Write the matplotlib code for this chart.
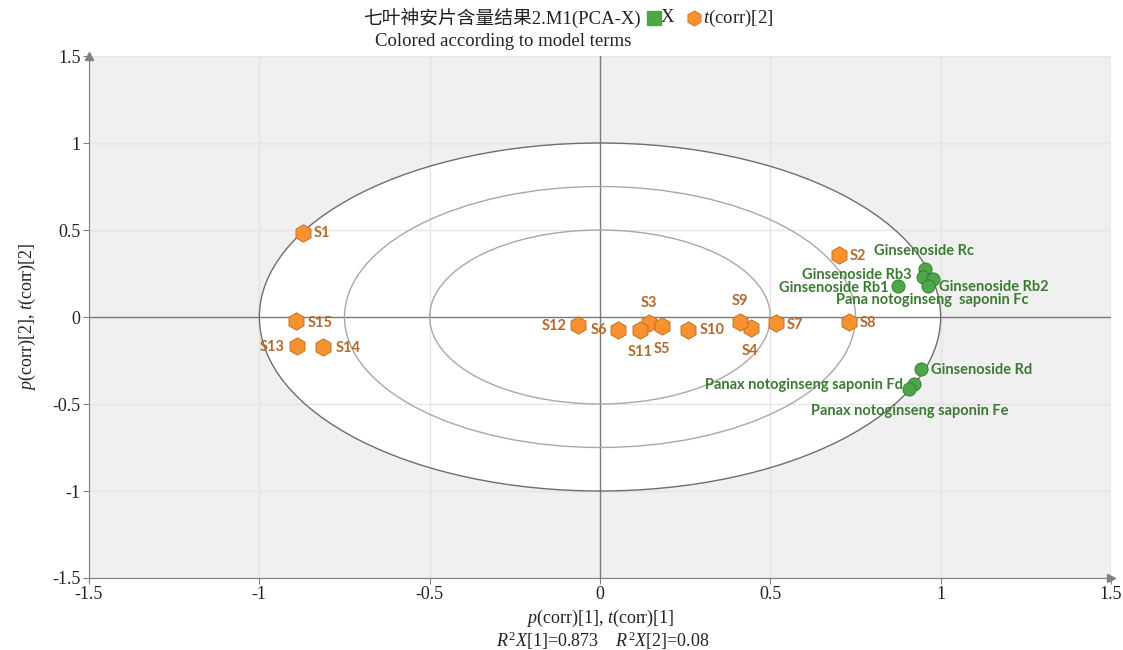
import matplotlib
matplotlib.use("Agg")
import matplotlib.pyplot as plt
from matplotlib.patches import Circle
from matplotlib.lines import Line2D

plt.rcParams["mathtext.fontset"] = "custom"
plt.rcParams["mathtext.it"] = "Liberation Serif:italic"
plt.rcParams["mathtext.rm"] = "Liberation Serif"
plt.rcParams["mathtext.bf"] = "Liberation Serif:bold"

# ---- data ----
obs_names = ["S1", "S2", "S3", "S4", "S5", "S6", "S7", "S8", "S9", "S10",
             "S11", "S12", "S13", "S14", "S15"]
obs_x = [-0.871, 0.701, 0.144, 0.443, 0.182, 0.053, 0.516, 0.730, 0.410, 0.258,
         0.117, -0.065, -0.889, -0.812, -0.891]
obs_y = [0.483, 0.356, -0.035, -0.063, -0.052, -0.075, -0.035, -0.028, -0.028, -0.075,
         -0.075, -0.046, -0.167, -0.172, -0.023]

var_names = ["Ginsenoside Rc", "Ginsenoside Rb3", "Ginsenoside Rb2",
             "Pana notoginseng  saponin Fc", "Ginsenoside Rb1", "Ginsenoside Rd",
             "Panax notoginseng saponin Fd", "Panax notoginseng saponin Fe"]
var_x = [0.953, 0.947, 0.977, 0.962, 0.874, 0.941, 0.921, 0.906]
var_y = [0.276, 0.230, 0.218, 0.178, 0.178, -0.299, -0.385, -0.414]

ticks = [-1.5, -1, -0.5, 0, 0.5, 1, 1.5]
tick_labels = ["-1.5", "-1", "-0.5", "0", "0.5", "1", "1.5"]
ellipse_radii = [1.0, 0.75, 0.5]

# label placement (pixel offsets, ha)
obs_off = {"S1": (10, 0, "left"), "S2": (11, -1, "left"), "S3": (0, 20, "center"),
           "S4": (-1, -23, "center"), "S5": (0, -23, "center"), "S6": (-11, 0, "right"),
           "S7": (11, -2, "left"), "S8": (11, -1, "left"), "S9": (0, 21, "center"),
           "S10": (12, 0, "left"), "S11": (0, -22, "center"), "S12": (-11, -1, "right"),
           "S13": (-12, -1, "right"), "S14": (12, -1, "left"), "S15": (11, -2, "left")}
var_off = [(-51, 18, "left"), (-11, 2, "right"), (6, -8, "left"), (5, -14, "center"),
           (-9, -2, "right"), (10, -1, "left"), (-11, -1, "right"), (1, -22, "center")]

W, H = 1123, 650
SERIF = ["Liberation Serif", "Noto Sans CJK SC", "DejaVu Serif"]
LABF = ["Lato", "DejaVu Sans"]
ORANGE = "#f7922f"
ORANGE_EDGE = "#b86a20"
ORANGE_TXT = "#b5682c"
GREEN = "#4fa64a"
GREEN_EDGE = "#2f7a2c"
GREEN_TXT = "#3c7a34"
FS = 13

fig = plt.figure(figsize=(W / 100, H / 100), dpi=100)
ax = fig.add_axes([89 / W, 1 - 578 / H, (1111 - 89) / W, (578 - 56) / H])
ax.set_xlim(-1.5, 1.5)
ax.set_ylim(-1.5, 1.5)
ax.set_facecolor("#f0f0f0")

# grid
for t in ticks:
    if t == 0:
        continue
    ax.axvline(t, color="#d8d8d8", lw=1, zorder=0.5)
    ax.axhline(t, color="#d8d8d8", lw=1, zorder=0.5)

# ellipses
ax.add_patch(Circle((0, 0), ellipse_radii[0], facecolor="white", edgecolor="none", zorder=0.6))
ax.add_patch(Circle((0, 0), ellipse_radii[0], facecolor="none", edgecolor="#6e6e6e", lw=1, zorder=1.5))
for r in ellipse_radii[1:]:
    ax.add_patch(Circle((0, 0), r, facecolor="none", edgecolor="#a8a8a8", lw=1, zorder=1.5))

for t in ticks:
    if t == 0:
        continue
    ax.axvline(t, color="#e6e6e6", lw=1, zorder=0.7)
    ax.axhline(t, color="#e6e6e6", lw=1, zorder=0.7)

ax.axvline(0, color="#7a7a7a", lw=1, zorder=1.2)
ax.axhline(0, color="#7a7a7a", lw=1, zorder=1.2)

# points
ax.plot(obs_x, obs_y, linestyle="none", marker="h", markersize=12.5,
        markerfacecolor=ORANGE, markeredgecolor=ORANGE_EDGE, markeredgewidth=0.6, zorder=3)
ax.plot(var_x, var_y, linestyle="none", marker="o", markersize=9.5,
        markerfacecolor=GREEN, markeredgecolor=GREEN_EDGE, markeredgewidth=0.6, zorder=3)

for n, x, y in zip(obs_names, obs_x, obs_y):
    dx, dy, ha = obs_off[n]
    ax.annotate(n, (x, y), xytext=(dx, dy), textcoords="offset pixels", ha=ha, va="center",
                fontsize=10.5, fontweight="bold", color=ORANGE_TXT, family=LABF, zorder=4)
for n, x, y, (dx, dy, ha) in zip(var_names, var_x, var_y, var_off):
    ax.annotate(n, (x, y), xytext=(dx, dy), textcoords="offset pixels", ha=ha, va="center",
                fontsize=10.5, fontweight="bold", color=GREEN_TXT, family=LABF, zorder=4)

# spines & ticks
for s in ["top", "right"]:
    ax.spines[s].set_visible(False)
for s in ["left", "bottom"]:
    ax.spines[s].set_color("#808080")
ax.set_xticks(ticks)
ax.set_yticks(ticks)
ax.set_xticklabels(tick_labels, family=SERIF, fontsize=FS)
ax.set_yticklabels(tick_labels, family=SERIF, fontsize=FS)
ax.tick_params(direction="out", length=4, color="#808080", labelcolor="#222222", pad=2)
ax.plot(1, 0, ">", color="#808080", markersize=6, transform=ax.transAxes, clip_on=False)
ax.plot(0, 1, "^", color="#808080", markersize=6, transform=ax.transAxes, clip_on=False)

ax.set_xlabel("$p$(corr)[1], $t$(corr)[1]", family=SERIF, fontsize=FS, color="#222222", labelpad=3)
ax.set_ylabel("$p$(corr)[2], $t$(corr)[2]", family=SERIF, fontsize=FS, color="#222222", labelpad=10)

fig.text(603 / W, 1 - 641 / H, "$R^2X$[1]=0.873    $R^2X$[2]=0.08", ha="center", va="center",
         family=SERIF, fontsize=FS, color="#222222")

# title
fig.text(641 / W, 1 - 18 / H, "七叶神安片含量结果2.M1(PCA-X)", ha="right", va="center",
         family=SERIF, fontsize=13.5, color="#222222")
fig.add_artist(Line2D([654 / W], [1 - 18 / H], marker="s", markersize=9.5, color=GREEN,
                      linestyle="none", transform=fig.transFigure))
fig.text(661 / W, 1 - 18 / H, "X", ha="left", va="center", family=SERIF, fontsize=13.5, color="#222222")
fig.add_artist(Line2D([694 / W], [1 - 18 / H], marker="h", markersize=11, color=ORANGE,
                      markeredgecolor=ORANGE_EDGE, markeredgewidth=0.5,
                      linestyle="none", transform=fig.transFigure))
fig.text(703 / W, 1 - 18 / H, "$t$(corr)[2]", ha="left", va="center", family=SERIF,
         fontsize=13.5, color="#222222")
fig.text(503 / W, 1 - 42 / H, "Colored according to model terms", ha="center", va="center",
         family=SERIF, fontsize=13.5, color="#222222")

fig.savefig("out.png", dpi=100)
